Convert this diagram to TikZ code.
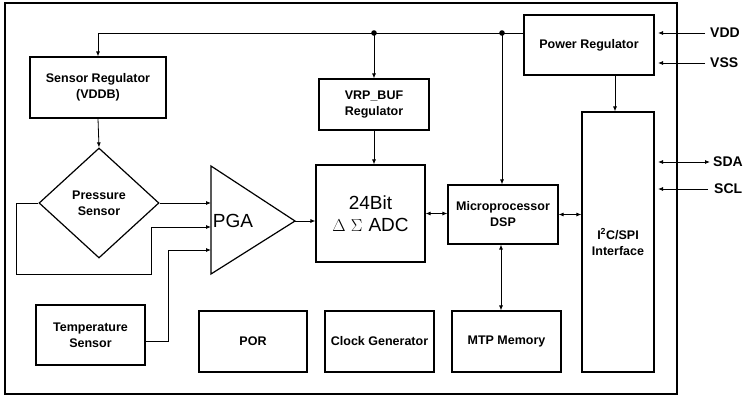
\documentclass[tikz,border=0pt]{standalone}
\usepackage{fontspec}
\setmainfont{Liberation Sans}
\usetikzlibrary{shapes.geometric, arrows.meta}

\tikzset{
  blk/.style={draw, line width=1.2pt, align=center, inner sep=0pt,
    font=\bfseries\fontsize{12.5}{16}\selectfont},
  big/.style={font=\fontsize{19}{22}\selectfont, align=center, inner sep=0pt},
  pad/.style={anchor=west, inner sep=0pt, font=\bfseries\fontsize{14}{16}\selectfont},
  sig/.style={line width=0.8pt, -{Latex[length=5pt,width=4pt]}},
  bisig/.style={line width=0.8pt, {Latex[length=5pt,width=4pt]}-{Latex[length=5pt,width=4pt]}},
  wire/.style={line width=0.8pt}
}

\begin{document}
\begin{tikzpicture}[x=1pt,y=-1pt]
\useasboundingbox (0,0) rectangle (745,397);
% chip outline
\draw[line width=2pt] (5,3) rectangle (677,394);

% blocks
\node[blk, minimum width=130, minimum height=60] (pwr) at (589,45) {Power Regulator};
\node[blk, minimum width=136, minimum height=61] (sreg) at (98,87.5) {Sensor Regulator\\(VDDB)};
\node[blk, minimum width=110, minimum height=51] (vrp) at (374,104.5) {VRP\_BUF\\Regulator};
\node[blk, minimum width=109, minimum height=97, font=\fontsize{19}{22}\selectfont] (adc) at (370.5,213.5) {24Bit\\$\Delta\ \Sigma$\hspace{6pt}ADC};
\node[blk, minimum width=110, minimum height=59] (mcu) at (503,214.5) {Microprocessor\\DSP};
\node[blk, minimum width=72, minimum height=260] (ifc) at (618,242) {I\textsuperscript{2}C/SPI\\Interface};
\node[blk, diamond, minimum width=120, minimum height=110] (ps) at (99,203) {Pressure\\Sensor};
\node[blk, minimum width=109, minimum height=60] (tmp) at (90.5,335) {Temperature\\Sensor};
\node[blk, minimum width=108, minimum height=61] (por) at (253,341.5) {POR};
\node[blk, minimum width=109, minimum height=61] (clk) at (379.5,341.5) {Clock Generator};
\node[blk, minimum width=109, minimum height=61] (mtp) at (506.5,341.5) {MTP Memory};

% PGA
\draw[line width=1.2pt] (211,166) coordinate (pgaTop) -- (295,221) coordinate (pgaOut)
  -- (211,274) coordinate (pgaBot) -- cycle;
\node[big] (pga) at (233,221) {PGA};
\coordinate (pgaIn2) at (211,227);
\coordinate (pgaIn3) at (211,250);

% supply bus
\coordinate (busR) at (524,33);
\coordinate (dotA) at (374,33);
\coordinate (dotB) at (502,33);
\draw[sig] (busR) -| (sreg.north);
\draw[sig] (dotA) -- (vrp.north);
\draw[sig] (dotB) -- (dotB |- mcu.north);
\fill (dotA) circle (2.8);
\fill (dotB) circle (2.8);

% signal path
\draw[sig] (sreg.south) -- (ps.north);
\draw[sig] (vrp.south) -- (vrp.south |- adc.north);
\draw[sig] (ps.east) -- (ps.east -| pgaTop);
\draw[sig] (ps.west) -- ++(-22,0) |- (151,274) |- (pgaIn2);
\draw[sig] ([yshift=-6pt]tmp.east) -- ++(23,0) |- (pgaIn3);
\draw[sig] (pgaOut) -- (adc.west |- pgaOut);
\draw[bisig] (adc.east) -- (adc.east -| mcu.west);
\draw[bisig] (mcu.east) -- (mcu.east -| ifc.west);
\draw[bisig] ([xshift=-2pt]mcu.south) -- ([xshift=-2pt]mcu.south |- mtp.north);
\draw[sig] ([xshift=-3pt]ifc.north |- pwr.south) -- ([xshift=-3pt]ifc.north);

% pins
\node[pad] (vdd) at (710,33) {VDD};
\node[pad] (vss) at (710,63) {VSS};
\node[pad] (sda) at (713,162) {SDA};
\node[pad] (scl) at (714,189) {SCL};
\draw[sig] ([xshift=-5pt]vdd.west) -- ++(-47,0);
\draw[sig] ([xshift=-5pt]vss.west) -- ++(-47,0);
\draw[bisig] ([xshift=-3pt]sda.west) -- ++(-52,0);
\draw[sig] ([xshift=-6pt]scl.west) -- ++(-50,0);
\end{tikzpicture}
\end{document}
